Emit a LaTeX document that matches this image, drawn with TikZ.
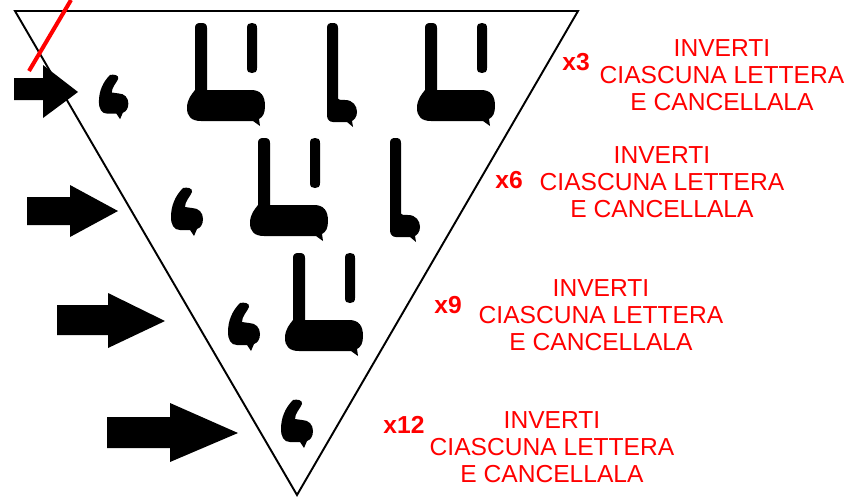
\documentclass[tikz,border=0pt]{standalone}
\usepackage{fontspec}
\setmainfont{Liberation Sans}
\usetikzlibrary{positioning}
\tikzset{instr/.style={text=red,align=center,inner sep=0pt,font=\fontsize{14}{15.3}\selectfont},
  mult/.style={text=red,inner sep=0pt,font=\fontsize{14}{15.3}\selectfont\bfseries},
  % glyphs, origin at top left of the tall stroke
  lbarglyph/.pic={
    \fill (0,5) .. controls (0,1) and (2,0) .. (6,0) .. controls (10,0) and (12,1) .. (12,5)
      -- (12,67) -- (56,67) .. controls (66,67) and (70,73) .. (70,83)
      .. controls (70,90) and (68,94) .. (64,96) -- (65,103) -- (58,98) -- (6,98)
      .. controls (-4,98) and (-8,93) .. (-8,85) .. controls (-8,76) and (-3,71) .. (0,67) -- cycle;
    \fill (52,5) .. controls (52,1) and (54,0) .. (57,0) .. controls (60,0) and (62,1) .. (62,5)
      -- (62,45) .. controls (62,49) and (60,50) .. (57,50) .. controls (54,50) and (52,49) .. (52,45) -- cycle;
  },
  lglyph/.pic={
    \fill (0,5) .. controls (0,1) and (2,0) .. (5.5,0) .. controls (9,0) and (11,1) .. (11,5)
      -- (11,75) .. controls (11,77) and (14,77) .. (18,77) .. controls (26,77) and (30,83) .. (30,89)
      .. controls (30,94) and (27,97) .. (25,98) -- (26,104) -- (20,99) -- (6,99)
      .. controls (2,99) and (0,96) .. (0,92) -- cycle;
  },
  hookglyph/.pic={
    \fill (13,0) .. controls (17,-1) and (23,0) .. (22,4)
      .. controls (20,9) and (15,13) .. (15,19) -- (22,20)
      .. controls (29,20) and (33,25) .. (33,31) .. controls (33,37) and (30,40) .. (27,41)
      -- (24,48) -- (20,42) -- (10,42)
      .. controls (4,42) and (1,37) .. (1,29) .. controls (1,18) and (5,8) .. (13,0) -- cycle;
  }
}

\begin{document}
\begin{tikzpicture}[x=0.02cm,y=-0.02cm]
  \useasboundingbox (0,0) rectangle (854,497);

  % Triangle
  \draw[line width=1.1pt,line join=miter] (15,11) -- (578,11) -- (297,495) -- cycle;
  \draw[red,line width=2.3pt] (71,0) -- (29,71);

  % Arrows
  \fill (14,78) -- (43,78) -- (43,65) -- (78,92) -- (43,118) -- (43,100) -- (14,100) -- cycle;
  \fill (27,197) -- (70,197) -- (70,185) -- (118,211) -- (70,237) -- (70,225) -- (27,225) -- cycle;
  \fill (57,305) -- (108,305) -- (108,293) -- (165,321) -- (108,348) -- (108,335) -- (57,335) -- cycle;
  \fill (107,417) -- (170,417) -- (170,403) -- (238,433) -- (170,462) -- (170,448) -- (107,448) -- cycle;

  % Row 1
  \pic[scale=0.92] at (98,75) {hookglyph};
  \pic at (195,23) {lbarglyph};
  \pic at (327,23) {lglyph};
  \pic at (425,23) {lbarglyph};
  % Row 2
  \pic at (170,188) {hookglyph};
  \pic at (258,138) {lbarglyph};
  \pic at (390,138) {lglyph};
  % Row 3
  \pic at (227,303) {hookglyph};
  \pic at (293,253) {lbarglyph};
  % Row 4
  \pic at (280,400) {hookglyph};

  % Instructions
  \node[mult] (m1) at (576,62) {x3};
  \node[instr] (t1) at (722,75) {INVERTI\\CIASCUNA LETTERA\\E CANCELLALA};
  \node[mult] (m2) at (509,180) {x6};
  \node[instr] (t2) at (662,182) {INVERTI\\CIASCUNA LETTERA\\E CANCELLALA};
  \node[mult] (m3) at (448,305) {x9};
  \node[instr] (t3) at (601,315) {INVERTI\\CIASCUNA LETTERA\\E CANCELLALA};
  \node[mult] (m4) at (404,425) {x12};
  \node[instr] (t4) at (552,447) {INVERTI\\CIASCUNA LETTERA\\E CANCELLALA};
\end{tikzpicture}
\end{document}
